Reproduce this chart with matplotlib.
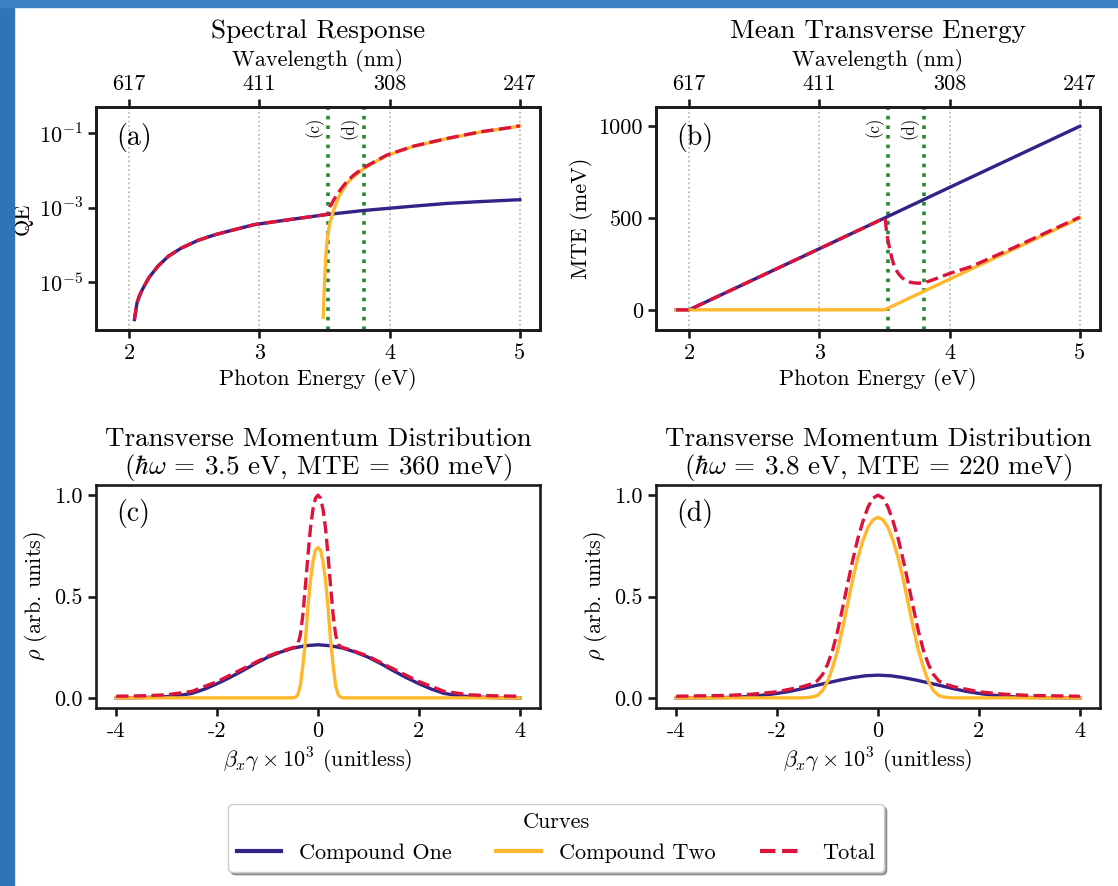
import numpy as np
import matplotlib
matplotlib.use("Agg")
import matplotlib.pyplot as plt
from matplotlib.patches import Rectangle
from matplotlib.ticker import NullLocator

plt.rcParams['font.family'] = 'serif'
plt.rcParams['font.serif'] = ['cmr10', 'DejaVu Serif']
plt.rcParams['mathtext.fontset'] = 'cm'
plt.rcParams['axes.unicode_minus'] = False
plt.rcParams['axes.formatter.use_mathtext'] = False
plt.rcParams['font.size'] = 16

W, H = 1118, 886

c_one = '#332288'
c_two = '#FFB72B'
c_tot = '#DC143C'
c_slice = '#228833'

# ---- spectral response (a): log10(QE)
qe_one_e = [2.04, 2.06, 2.08, 2.10, 2.15, 2.22, 2.30, 2.40, 2.53, 2.66, 2.78, 2.96, 3.16, 3.49,
            3.80, 4.16, 4.44, 4.70, 5.00]
qe_one_log = [-6.01, -5.56, -5.36, -5.21, -4.89, -4.58, -4.31, -4.09, -3.88, -3.73, -3.62, -3.46,
              -3.36, -3.20, -3.08, -2.97, -2.89, -2.84, -2.79]
qe_two_e = [3.49, 3.50, 3.51, 3.52, 3.54, 3.57, 3.61, 3.67, 3.72, 3.80, 3.90, 3.98, 4.18, 4.44,
            4.70, 4.92, 5.00]
qe_two_log = [-5.95, -5.04, -4.32, -3.87, -3.43, -3.07, -2.71, -2.36, -2.18, -1.96, -1.75, -1.60,
              -1.36, -1.15, -0.97, -0.86, -0.81]
qe_tot_e = [2.04, 2.06, 2.08, 2.10, 2.15, 2.22, 2.30, 2.40, 2.53, 2.66, 2.78, 2.96, 3.16, 3.49,
            3.52, 3.53, 3.54, 3.555, 3.57, 3.59, 3.61, 3.64, 3.67, 3.72, 3.80, 3.90, 3.98, 4.18,
            4.44, 4.70, 4.92, 5.00]
qe_tot_log = [-6.01, -5.56, -5.36, -5.21, -4.89, -4.58, -4.31, -4.09, -3.88, -3.73, -3.62, -3.46,
              -3.36, -3.20, -3.18, -3.15, -2.99, -2.90, -2.80, -2.68, -2.58, -2.44, -2.31, -2.14,
              -1.93, -1.74, -1.59, -1.355, -1.145, -0.965, -0.855, -0.805]

# ---- mean transverse energy (b), meV
mte_one_e = [1.9, 2.0, 3.0, 3.5, 4.0, 5.0]
mte_one = [0, 0, 333, 500, 667, 1000]
mte_two_e = [1.9, 3.5, 4.0, 4.5, 5.0]
mte_two = [0, 0, 167, 333, 500]
mte_tot_e = [1.9, 2.0, 3.0, 3.5, 3.505, 3.517, 3.53, 3.543, 3.555, 3.568, 3.585, 3.606, 3.63,
             3.658, 3.69, 3.722, 3.76, 3.798, 3.85, 3.90, 4.0, 4.16, 4.5, 4.8, 5.0]
mte_tot = [0, 0, 333, 500, 498, 416, 365, 325, 285, 253, 222, 198, 178, 162, 152, 147, 145, 147,
           158, 171, 198, 234, 341, 440, 505]

# wavelength axis
energy_ticks = [2, 3, 4, 5]
wavelength_labels = ['617', '411', '308', '247']
slice_e = [3.53, 3.80]
slice_labels = ['(c)', '(d)']

# ---- momentum distributions (c) hw = 3.5 eV
c_one_x = [-4.0, -3.5, -3.0, -2.75, -2.5, -2.25, -2.0, -1.75, -1.5, -1.25, -1.0, -0.75, -0.5,
           -0.25, 0.0, 0.25, 0.5, 0.75, 1.0, 1.25, 1.5, 1.75, 2.0, 2.25, 2.5, 2.75, 3.0, 3.5, 4.0]
c_one_rho = [0.0, 0.001, 0.006, 0.012, 0.022, 0.043, 0.07, 0.1, 0.133, 0.168, 0.2, 0.225, 0.245,
             0.257, 0.262, 0.257, 0.245, 0.225, 0.2, 0.168, 0.133, 0.1, 0.07, 0.043, 0.022, 0.012,
             0.006, 0.001, 0.0]
c_two_x = [-4.0, -0.5, -0.45, -0.4, -0.35, -0.3, -0.25, -0.2, -0.15, -0.1, -0.05, 0.0, 0.05, 0.1,
           0.15, 0.2, 0.25, 0.3, 0.35, 0.4, 0.45, 0.5, 4.0]
c_two_rho = [0.0, 0.0, 0.003, 0.015, 0.06, 0.16, 0.28, 0.445, 0.577, 0.672, 0.729, 0.741, 0.729,
             0.672, 0.577, 0.445, 0.28, 0.16, 0.06, 0.015, 0.003, 0.0, 0.0]
c_tot_x = [-4.0, -3.5, -3.0, -2.5, -2.0, -1.5, -1.0, -0.75, -0.6, -0.5, -0.45, -0.4, -0.35, -0.3,
           -0.25, -0.2, -0.15, -0.1, -0.05, 0.0, 0.05, 0.1, 0.15, 0.2, 0.25, 0.3, 0.35, 0.4, 0.45,
           0.5, 0.6, 0.75, 1.0, 1.5, 2.0, 2.5, 3.0, 3.5, 4.0]
c_tot_rho = [0.008, 0.01, 0.015, 0.032, 0.08, 0.142, 0.205, 0.228, 0.24, 0.247, 0.252, 0.265,
             0.31, 0.41, 0.55, 0.70, 0.835, 0.93, 0.985, 1.0, 0.985, 0.93, 0.835, 0.70, 0.55, 0.41,
             0.31, 0.265, 0.252, 0.247, 0.24, 0.228, 0.205, 0.142, 0.08, 0.032, 0.015, 0.01, 0.008]

# ---- momentum distributions (d) hw = 3.8 eV
d_one_x = c_one_x
d_one_rho = [0.0, 0.0005, 0.002, 0.004, 0.008, 0.014, 0.022, 0.032, 0.045, 0.06, 0.074, 0.088,
             0.1, 0.109, 0.112, 0.109, 0.1, 0.088, 0.074, 0.06, 0.045, 0.032, 0.022, 0.014, 0.008,
             0.004, 0.002, 0.0005, 0.0]
d_two_x = [-4.0, -1.5, -1.3, -1.2, -1.1, -1.0, -0.9, -0.8, -0.7, -0.6, -0.5, -0.4, -0.3, -0.2,
           -0.1, 0.0, 0.1, 0.2, 0.3, 0.4, 0.5, 0.6, 0.7, 0.8, 0.9, 1.0, 1.1, 1.2, 1.3, 1.5, 4.0]
d_two_rho = [0.0, 0.0, 0.004, 0.012, 0.035, 0.08, 0.15, 0.235, 0.345, 0.465, 0.585, 0.69, 0.775,
             0.84, 0.878, 0.891, 0.878, 0.84, 0.775, 0.69, 0.585, 0.465, 0.345, 0.235, 0.15, 0.08,
             0.035, 0.012, 0.004, 0.0, 0.0]
d_tot_x = [-4.0, -3.5, -3.0, -2.5, -2.0, -1.5, -1.3, -1.2, -1.1, -1.0, -0.9, -0.8, -0.7, -0.6,
           -0.5, -0.4, -0.3, -0.2, -0.1, 0.0, 0.1, 0.2, 0.3, 0.4, 0.5, 0.6, 0.7, 0.8, 0.9, 1.0,
           1.1, 1.2, 1.3, 1.5, 2.0, 2.5, 3.0, 3.5, 4.0]
d_tot_rho = [0.008, 0.01, 0.012, 0.018, 0.03, 0.055, 0.07, 0.085, 0.115, 0.165, 0.235, 0.33,
             0.445, 0.565, 0.68, 0.785, 0.87, 0.94, 0.985, 1.0, 0.985, 0.94, 0.87, 0.785, 0.68,
             0.565, 0.445, 0.33, 0.235, 0.165, 0.115, 0.085, 0.07, 0.055, 0.03, 0.018, 0.012,
             0.01, 0.008]

fig = plt.figure(figsize=(W / 100, H / 100), dpi=100)
fig.patches.append(Rectangle((0, 0), 14 / W, 1, transform=fig.transFigure, color='#2f74b5', zorder=0))
fig.patches.append(Rectangle((0, 1 - 7 / H), 1, 7 / H, transform=fig.transFigure, color='#3a80c4', zorder=0))


def px_axes(x0, y0, x1, y1):
    return fig.add_axes([x0 / W, 1 - y1 / H, (x1 - x0) / W, (y1 - y0) / H])


def style(ax):
    for s in ax.spines.values():
        s.set_linewidth(1.9)
        s.set_color('#1a1a1a')
    ax.tick_params(direction='out', length=6, width=1.9, color='#1a1a1a', labelsize=16)


def energy_panel(ax, title, letter):
    style(ax)
    ax.set_xticks(energy_ticks)
    ax.grid(axis='x', ls=':', color='#b0b0b0', lw=1.2)
    ax.set_xlabel('Photon Energy (eV)')
    for e, lab in zip(slice_e, slice_labels):
        ax.axvline(e, color=c_slice, ls=':', lw=2.6, zorder=1)
        ax.text(e - 0.11, 0.955, lab, rotation=90, ha='center', va='top', fontsize=12,
                transform=ax.get_xaxis_transform())
    ax.text(0.045, 0.865, letter, transform=ax.transAxes, fontsize=20, va='center')
    top = ax.twiny()
    top.set_xlim(ax.get_xlim())
    top.set_xticks(energy_ticks)
    top.set_xticklabels(wavelength_labels)
    top.set_xlabel('Wavelength (nm)', labelpad=6)
    style(top)
    top.set_title(title, fontsize=19.5, pad=8)


# (a)
ax_a = px_axes(96, 107, 540, 330)
ax_a.semilogy(qe_one_e, 10 ** np.array(qe_one_log), color=c_one, lw=2.4, zorder=2)
ax_a.semilogy(qe_two_e, 10 ** np.array(qe_two_log), color=c_two, lw=2.4, zorder=2)
ax_a.semilogy(qe_tot_e, 10 ** np.array(qe_tot_log), color=c_tot, lw=2.4, ls='--', zorder=3)
ax_a.set_xlim(1.745, 5.155)
ax_a.set_ylim(10 ** -6.29, 10 ** -0.30)
ax_a.set_yticks([1e-5, 1e-3, 1e-1])
ax_a.set_yticklabels([r'$10^{-5}$', r'$10^{-3}$', r'$10^{-1}$'])
ax_a.yaxis.set_minor_locator(NullLocator())
ax_a.set_ylabel('QE')
energy_panel(ax_a, 'Spectral Response', '(a)')

# (b)
ax_b = px_axes(656, 107, 1100, 330)
ax_b.plot(mte_one_e, mte_one, color=c_one, lw=2.4, zorder=2)
ax_b.plot(mte_two_e, mte_two, color=c_two, lw=2.4, zorder=2)
ax_b.plot(mte_tot_e, mte_tot, color=c_tot, lw=2.4, ls='--', zorder=3)
ax_b.set_xlim(1.745, 5.155)
ax_b.set_ylim(-110, 1105)
ax_b.set_yticks([0, 500, 1000])
ax_b.set_ylabel('MTE (meV)')
energy_panel(ax_b, 'Mean Transverse Energy', '(b)')


def momentum_panel(ax, data, title, letter):
    style(ax)
    (x1, y1), (x2, y2), (x3, y3) = data
    l1, = ax.plot(x1, y1, color=c_one, lw=2.4)
    l2, = ax.plot(x2, y2, color=c_two, lw=2.4)
    l3, = ax.plot(x3, y3, color=c_tot, lw=2.4, ls='--')
    ax.set_xticks([-4, -2, 0, 2, 4])
    ax.set_xticklabels(['-4', '-2', '0', '2', '4'])
    ax.set_yticks([0, 0.5, 1.0])
    ax.set_yticklabels(['0.0', '0.5', '1.0'])
    ax.set_xlabel(r'$\beta_x\gamma \times 10^3$ (unitless)')
    ax.set_ylabel(r'$\rho$ (arb. units)')
    ax.set_title(title, fontsize=19.5, pad=8, linespacing=1.05)
    ax.text(0.045, 0.87, letter, transform=ax.transAxes, fontsize=20, va='center')
    return l1, l2, l3


ax_c = px_axes(96, 485, 540, 708)
handles = momentum_panel(ax_c, [(c_one_x, c_one_rho), (c_two_x, c_two_rho), (c_tot_x, c_tot_rho)],
                         'Transverse Momentum Distribution\n'
                         r'($\hbar\omega$ = 3.5 eV, MTE = 360 meV)', '(c)')
ax_d = px_axes(656, 485, 1100, 708)
momentum_panel(ax_d, [(d_one_x, d_one_rho), (d_two_x, d_two_rho), (d_tot_x, d_tot_rho)],
               'Transverse Momentum Distribution\n'
               r'($\hbar\omega$ = 3.8 eV, MTE = 220 meV)', '(d)')

leg = fig.legend(handles, ['Compound One', 'Compound Two', 'Total'], loc='center',
                 bbox_to_anchor=(556 / W, 1 - 838 / H), ncol=3, title='Curves',
                 fontsize=16, title_fontsize=16, fancybox=True, shadow=True,
                 handlelength=2.0, columnspacing=2.0)
leg.get_frame().set_edgecolor('#cccccc')
for ln in leg.get_lines():
    ln.set_linewidth(3.0)

fig.savefig('out.png', dpi=100)
